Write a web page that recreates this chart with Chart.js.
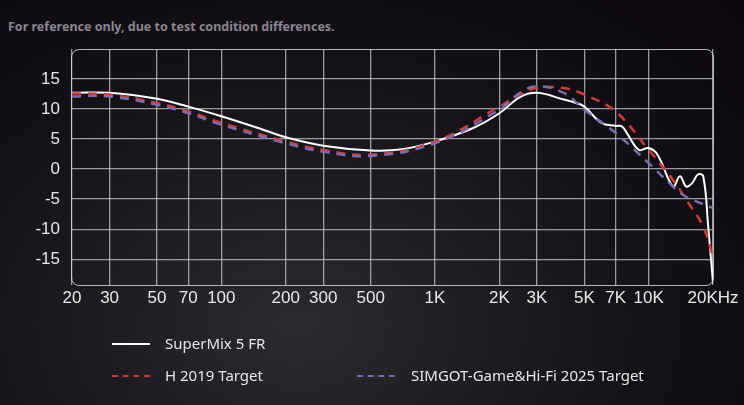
<!DOCTYPE html>
<html><head><meta charset="utf-8">
<script src="https://cdn.jsdelivr.net/npm/chart.js@4"></script>
<style>
body{margin:0;width:744px;height:405px;overflow:hidden;background:#0e0a10;font-family:"Noto Sans",sans-serif;}
#wrap{position:relative;width:744px;height:405px;background:radial-gradient(ellipse at 40% 80%,#2a2a30 0%,#141216 55%,#0c080e 100%);}
#note{position:absolute;left:8px;top:18px;color:#8a8590;font-size:12.5px;font-weight:bold;}
#frame{position:absolute;left:71px;top:49px;width:641px;height:235px;border:1.5px solid rgba(210,210,210,0.85);border-radius:8px;}
.lg{position:absolute;color:#e6e6e6;font-size:15px;}
.sw{position:absolute;width:38px;height:0;}
</style></head><body>
<div id="wrap">
<div id="note">For reference only, due to test condition differences.</div>
<canvas id="fr" width="744" height="405" style="position:absolute;left:0;top:0"></canvas>
<div id="frame"></div>
<div class="sw" style="left:112px;top:343px;border-top:2px solid #fff"></div>
<div class="lg" style="left:165px;top:333px">SuperMix 5 FR</div>
<div class="sw" style="left:112px;top:375px;border-top:2.5px dashed #d23a3a"></div>
<div class="lg" style="left:165px;top:365px">H 2019 Target</div>
<div class="sw" style="left:357px;top:375px;border-top:2.5px dashed #7a6cae"></div>
<div class="lg" style="left:411px;top:365px">SIMGOT-Game&amp;Hi-Fi 2025 Target</div>
</div>
<script>
// valores
const tickFreqs = [20, 30, 50, 70, 100, 200, 300, 500, 1000, 2000, 3000, 5000, 7000, 10000, 20000];
const tickLabels = ['20', '30', '50', '70', '100', '200', '300', '500', '1K', '2K', '3K', '5K', '7K', '10K', '20KHz'];

const frFreqs = [20, 30, 50, 70, 100, 150, 200, 300, 500, 700, 1000, 1500, 2000, 2500, 3000, 4000, 4500, 5000, 6000, 7000, 7500, 8000, 9000, 10000, 11000, 13000, 14000, 15000, 16000, 17000, 18000, 19000, 20000];
const frValues = [12.7, 12.7, 11.7, 10.4, 8.8, 6.8, 5.3, 3.9, 3.1, 3.3, 4.6, 6.8, 9.3, 12.0, 12.7, 11.6, 11.1, 10.4, 7.7, 7.2, 7.1, 5.7, 3.2, 3.5, 2.4, -2.9, -1.2, -2.9, -2.3, -0.9, -1.2, -9.6, -19];

const hFreqs = [20, 30, 50, 70, 100, 200, 300, 500, 1000, 2000, 2500, 3000, 4000, 5000, 7000, 10000, 13000, 15000, 18000, 20000];
const hValues = [12.6, 12.4, 11, 9.6, 7.7, 4.6, 3.2, 2.4, 4.6, 10.4, 12.4, 13.5, 13.5, 12.4, 9.6, 3.2, -1.8, -5.1, -9.6, -14.6];

const sgFreqs = [20, 30, 50, 70, 100, 200, 300, 500, 1000, 2000, 2500, 3000, 4000, 5000, 7000, 10000, 13000, 15000, 20000];
const sgValues = [12.1, 12.1, 10.7, 9.3, 7.4, 4.3, 2.9, 2.2, 4.3, 9.9, 12.7, 13.8, 12.7, 9.9, 6.0, 1.0, -2.9, -4.6, -6.5];

const toPts = (f, v) => f.map((x, i) => ({ x: x, y: v[i] }));

new Chart(document.getElementById('fr'), {
    type: 'line',
    data: {
        datasets: [
            { data: toPts(sgFreqs, sgValues), borderColor: '#7a6cae', borderWidth: 2.5, borderDash: [9, 7], pointRadius: 0, tension: 0.4 },
            { data: toPts(hFreqs, hValues), borderColor: '#d23a3a', borderWidth: 2.5, borderDash: [9, 7], pointRadius: 0, tension: 0.4 },
            { data: toPts(frFreqs, frValues), borderColor: '#ffffff', borderWidth: 2, pointRadius: 0, tension: 0.4 }
        ]
    },
    options: {
        responsive: false,
        animation: false,
        layout: { padding: { top: 49, right: 31, bottom: 90, left: 0 } },
        plugins: { legend: { display: false }, tooltip: { enabled: false } },
        scales: {
            x: {
                type: 'logarithmic', min: 20, max: 20000,
                afterBuildTicks: s => { s.ticks = tickFreqs.map(v => ({ value: v })); },
                afterFit: s => { s.height = 30; },
                ticks: { color: '#e8e8e8', font: { size: 17 }, autoSkip: false, maxRotation: 0,
                    callback: (v, i) => tickLabels[i] },
                grid: { color: 'rgba(200,200,200,0.75)', lineWidth: 1.3, drawTicks: false },
                border: { display: false }
            },
            y: {
                min: -19.3, max: 20,
                afterBuildTicks: s => { s.ticks = [15, 10, 5, 0, -5, -10, -15].map(v => ({ value: v })); },
                afterFit: s => { s.width = 72; },
                ticks: { color: '#e8e8e8', font: { size: 17 }, padding: 12 },
                grid: { color: 'rgba(200,200,200,0.75)', lineWidth: 1.3, drawTicks: false },
                border: { display: false }
            }
        }
    }
});
</script>
</body></html>
